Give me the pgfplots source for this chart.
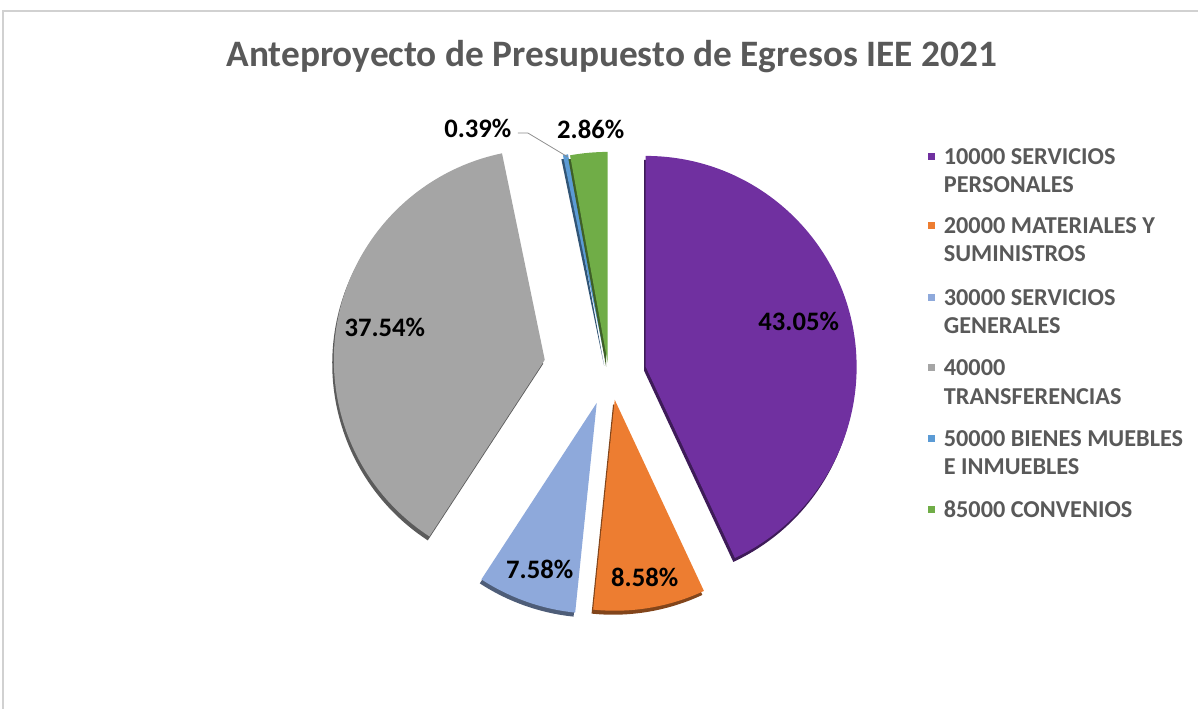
\documentclass[border=0pt]{standalone}
\usepackage{pgfplots}
\pgfplotsset{compat=1.18}
\usepackage{fontspec}
\setmainfont{Carlito}
\definecolor{cA}{HTML}{7030A0}
\definecolor{cB}{HTML}{ED7D31}
\definecolor{cC}{HTML}{8EA9DB}
\definecolor{cD}{HTML}{A5A5A5}
\definecolor{cE}{HTML}{5B9BD5}
\definecolor{cF}{HTML}{70AD47}
\definecolor{txt}{HTML}{595959}
\def\R{158.25pt}
% tip x, tip y, start angle, end angle, colour
\newcommand\slice[5]{%
  \fill[#5!55!black] (axis cs:#1,#2) ++(-1.2pt,-3pt) -- ++(#3:\R) arc[start angle=#3,end angle=#4,radius=\R] -- cycle;
  \fill[#5] (axis cs:#1,#2) -- ++(#3:\R) arc[start angle=#3,end angle=#4,radius=\R] -- cycle;
}
\begin{document}
\begin{tikzpicture}
% data (per cent)
\def\vA{43.05}\def\vB{8.58}\def\vC{7.58}\def\vD{37.54}\def\vE{0.39}\def\vF{2.86}
\pgfmathsetmacro\aA{90}
\pgfmathsetmacro\aB{\aA-3.6*\vA}
\pgfmathsetmacro\aC{\aB-3.6*\vB}
\pgfmathsetmacro\aD{\aC-3.6*\vC}
\pgfmathsetmacro\aE{\aD-3.6*\vD}
\pgfmathsetmacro\aF{\aE-3.6*\vE}
\pgfmathsetmacro\aG{\aF-3.6*\vF}
\begin{axis}[x=0.75pt,y=0.75pt,xmin=0,xmax=1199,ymin=0,ymax=709,hide axis,clip=false]
\path (axis cs:0,0) rectangle (axis cs:1199,709);
\draw[black!18,line width=0.8pt] (axis cs:3,0) -- (axis cs:3,698) -- (axis cs:1199,698);
\node[font=\bfseries\fontsize{28}{33}\selectfont,text=txt] at (axis cs:612,652) {Anteproyecto de Presupuesto de Egresos IEE 2021};
% slices
\slice{646}{342}{\aA}{\aB}{cA}
\slice{615}{309}{\aB}{\aC}{cB}
\slice{597}{306}{\aC}{\aD}{cC}
\slice{545}{349}{\aD}{\aE}{cD}
\slice{606}{347}{\aE}{\aF}{cE}
\slice{608}{346}{\aF}{\aG}{cF}
% data labels
\begin{scope}[every node/.style={font=\bfseries\fontsize{20}{24}\selectfont,text=black}]
\node at (axis cs:799,387) {43.05\%};
\node at (axis cs:385,381) {37.54\%};
\node at (axis cs:540,139) {7.58\%};
\node at (axis cs:645,131) {8.58\%};
\node at (axis cs:478,581) {0.39\%};
\node at (axis cs:591,580) {2.86\%};
\end{scope}
\draw[black!45,line width=0.6pt] (axis cs:518,576) -- (axis cs:528,576) -- (axis cs:568,552);
% legend
\begin{scope}[every node/.style={font=\bfseries\fontsize{18.2}{22}\selectfont,text=txt,anchor=base west,inner sep=0pt}]
\fill[cA] (axis cs:928.5,548.5) rectangle (axis cs:935.5,555.5);
\node at (axis cs:944,544) {10000 SERVICIOS};
\node at (axis cs:944,516) {PERSONALES};
\fill[cB] (axis cs:928.5,479.5) rectangle (axis cs:935.5,486.5);
\node at (axis cs:944,475) {20000 MATERIALES Y};
\node at (axis cs:944,447) {SUMINISTROS};
\fill[cC] (axis cs:928.5,407.5) rectangle (axis cs:935.5,414.5);
\node at (axis cs:944,403) {30000 SERVICIOS};
\node at (axis cs:944,375) {GENERALES};
\fill[cD] (axis cs:928.5,337.5) rectangle (axis cs:935.5,344.5);
\node at (axis cs:944,333) {40000};
\node at (axis cs:944,304) {TRANSFERENCIAS};
\fill[cE] (axis cs:928.5,266.5) rectangle (axis cs:935.5,273.5);
\node at (axis cs:944,262) {50000 BIENES MUEBLES};
\node at (axis cs:944,234) {E INMUEBLES};
\fill[cF] (axis cs:928.5,195.5) rectangle (axis cs:935.5,202.5);
\node at (axis cs:944,191) {85000 CONVENIOS};
\end{scope}
\end{axis}
\end{tikzpicture}
\end{document}
